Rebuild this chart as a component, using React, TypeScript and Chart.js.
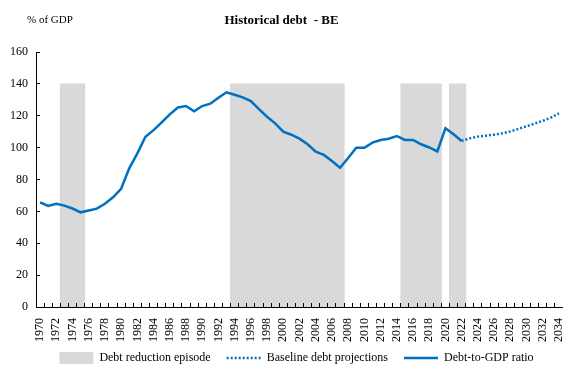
import React, { useEffect, useRef } from "react";
import { Chart, registerables } from "chart.js";

Chart.register(...registerables);

const years: string[] = [
  "1970","1971","1972","1973","1974","1975","1976","1977","1978","1979",
  "1980","1981","1982","1983","1984","1985","1986","1987","1988","1989",
  "1990","1991","1992","1993","1994","1995","1996","1997","1998","1999",
  "2000","2001","2002","2003","2004","2005","2006","2007","2008","2009",
  "2010","2011","2012","2013","2014","2015","2016","2017","2018","2019",
  "2020","2021","2022","2023","2024","2025","2026","2027","2028","2029",
  "2030","2031","2032","2033","2034",
];

// Debt-to-GDP ratio, 1970-2022
const debtRatio: number[] = [
  65.7, 63.4, 64.8, 63.6, 61.8, 59.4, 60.6, 61.7, 64.8, 68.8,
  74.2, 87.0, 96.4, 106.8, 111.0, 115.8, 120.9, 125.2, 126.1, 122.8,
  126.1, 127.6, 131.3, 134.7, 133.2, 131.5, 129.2, 124.2, 119.4, 115.2,
  110.0, 108.1, 105.6, 102.1, 97.4, 95.4, 91.6, 87.4, 93.5, 99.9,
  99.9, 103.1, 104.8, 105.6, 107.3, 104.8, 104.8, 102.1, 100.1, 97.6,
  112.2, 108.4, 104.2,
];

// Baseline debt projections, 2022-2034
const projectionStartYear = "2022";
const projections: number[] = [
  104.2, 105.8, 106.9, 107.5, 108.1, 109.0, 110.2, 111.7, 113.4, 115.1,
  116.8, 118.8, 121.5,
];

// Debt reduction episodes [first year, last year]
const episodeStarts: string[] = ["1973", "1994", "2015", "2021"];
const episodeEnds: string[] = ["1975", "2007", "2019", "2022"];
const episodeHeight = 140;

const yTicks: number[] = [0, 20, 40, 60, 80, 100, 120, 140, 160];

const BLUE = "#0070C0";
const GREY = "#D9D9D9";
const FONT = "'Liberation Serif', 'Times New Roman', serif";

export default function App() {
  const ref = useRef<HTMLCanvasElement | null>(null);

  useEffect(() => {
    document.body.style.margin = "0";
    const canvas = ref.current;
    if (!canvas) return;

    const episodeData = years.map((y) => {
      const yr = Number(y);
      for (let i = 0; i < episodeStarts.length; i++) {
        if (yr >= Number(episodeStarts[i]) && yr <= Number(episodeEnds[i])) return episodeHeight;
      }
      return null;
    });
    const ratioData = years.map((_, i) => (i < debtRatio.length ? debtRatio[i] : null));
    const projStart = years.indexOf(projectionStartYear);
    const projData = years.map((_, i) =>
      i >= projStart && i - projStart < projections.length ? projections[i - projStart] : null
    );

    const unitLabel = {
      id: "unitLabel",
      afterLayout(chart: any) {
        const lg = chart.legend;
        if (lg) {
          lg.left += 15;
          lg.right += 15;
          lg.top -= 6;
          lg.bottom -= 6;
        }
      },
      afterDraw(chart: any) {
        const ctx = chart.ctx;
        ctx.save();
        ctx.font = `11px ${FONT}`;
        ctx.fillStyle = "#000";
        ctx.textAlign = "left";
        ctx.textBaseline = "middle";
        ctx.fillText("% of GDP", 27, 20);
        ctx.restore();
      },
    };

    const chart = new Chart(canvas, {
      type: "bar",
      data: {
        labels: years,
        datasets: [
          {
            type: "bar",
            label: "Debt reduction episode",
            data: episodeData as any,
            backgroundColor: GREY,
            borderWidth: 0,
            barPercentage: 1,
            categoryPercentage: 1,
            inflateAmount: 0.5,
            order: 2,
          } as any,
          {
            type: "line",
            label: "Baseline debt projections",
            data: projData as any,
            borderColor: BLUE,
            backgroundColor: BLUE,
            borderWidth: 2.5,
            borderDash: [2, 2],
            borderCapStyle: "butt",
            pointRadius: 0,
            tension: 0,
            spanGaps: false,
            order: 1,
          } as any,
          {
            type: "line",
            label: "Debt-to-GDP ratio",
            data: ratioData as any,
            borderColor: BLUE,
            backgroundColor: BLUE,
            borderWidth: 2.5,
            pointRadius: 0,
            tension: 0,
            spanGaps: false,
            order: 0,
          } as any,
        ],
      },
      options: {
        responsive: false,
        animation: false,
        devicePixelRatio: 1,
        events: [],
        layout: { padding: { left: 0, right: 0, top: 0, bottom: 12 } },
        plugins: {
          title: {
            display: true,
            text: "Historical debt  - BE",
            color: "#000",
            font: { family: FONT, size: 13, weight: "bold" },
            padding: { top: 13, bottom: 23.4 },
          },
          legend: {
            display: true,
            position: "bottom",
            labels: {
              color: "#000",
              font: { family: FONT, size: 12 },
              usePointStyle: true,
              pointStyleWidth: 34,
              boxHeight: 12,
              padding: 16,
              generateLabels: () => [
                {
                  text: "Debt reduction episode",
                  fillStyle: GREY,
                  strokeStyle: GREY,
                  lineWidth: 0,
                  pointStyle: "rect",
                  hidden: false,
                  datasetIndex: 0,
                  fontColor: "#000",
                } as any,
                {
                  text: "Baseline debt projections",
                  fillStyle: BLUE,
                  strokeStyle: BLUE,
                  lineWidth: 2.5,
                  lineDash: [2, 2],
                  pointStyle: "line",
                  hidden: false,
                  datasetIndex: 1,
                  fontColor: "#000",
                } as any,
                {
                  text: "Debt-to-GDP ratio",
                  fillStyle: BLUE,
                  strokeStyle: BLUE,
                  lineWidth: 2.5,
                  pointStyle: "line",
                  hidden: false,
                  datasetIndex: 2,
                  fontColor: "#000",
                } as any,
              ],
            },
          },
          tooltip: { enabled: false },
        },
        scales: {
          x: {
            type: "category",
            offset: true,
            z: 1,
            afterFit: (scale: any) => {
              scale.height = 35;
              scale.paddingLeft = 0;
              scale.paddingRight = 0;
            },
            border: { display: true, color: "#000", width: 1, z: 1 },
            grid: {
              offset: true,
              drawOnChartArea: false,
              drawTicks: true,
              tickLength: -4,
              color: "#000",
              lineWidth: 1,
              z: 1,
            },
            ticks: {
              autoSkip: false,
              minRotation: 90,
              maxRotation: 90,
              padding: 15,
              color: "#000",
              font: { family: FONT, size: 12 },
              callback: (_v: any, i: number) => (i % 2 === 0 ? years[i] : ""),
            },
          },
          y: {
            min: 0,
            max: 160,
            z: 1,
            afterBuildTicks: (scale: any) => {
              scale.ticks = yTicks.map((v) => ({ value: v }));
            },
            afterFit: (scale: any) => {
              scale.width = 36;
            },
            border: { display: true, color: "#000", width: 1, z: 1 },
            grid: {
              drawOnChartArea: false,
              drawTicks: true,
              tickLength: -4,
              color: "#000",
              lineWidth: 1,
              z: 1,
            },
            ticks: {
              padding: 12,
              color: "#000",
              font: { family: FONT, size: 12 },
            },
          },
        },
      },
      plugins: [unitLabel],
    });

    return () => chart.destroy();
  }, []);

  return (
    <div style={{ width: 563, height: 392 }}>
      <canvas ref={ref} width={563} height={392} style={{ display: "block" }} />
    </div>
  );
}
